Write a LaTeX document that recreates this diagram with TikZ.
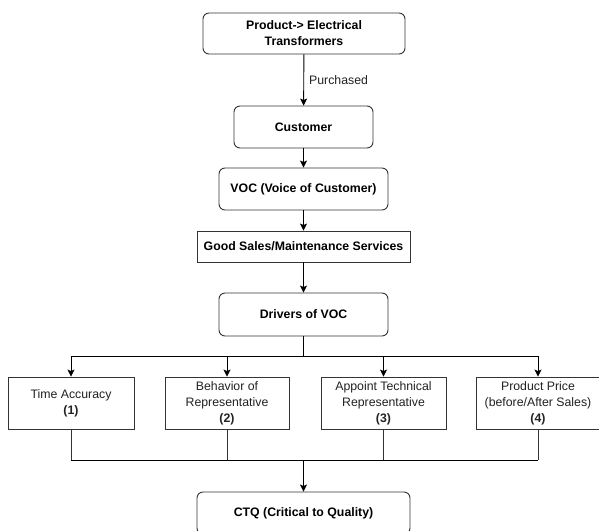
\documentclass[tikz,border=0pt]{standalone}
\usepackage{fontspec}
\setmainfont{Liberation Sans}
\usetikzlibrary{arrows.meta}
\definecolor{edgegray}{HTML}{333333}
\definecolor{txtgray}{HTML}{222222}
\tikzset{
  rbox/.style={draw=edgegray, line width=0.9pt, rounded corners=6pt, fill=white, align=center,
    inner sep=0pt, font=\fontsize{12.3}{16}\selectfont\bfseries},
  sbox/.style={draw=edgegray, line width=0.9pt, fill=white, align=center,
    inner sep=0pt, font=\fontsize{12.3}{16}\selectfont\bfseries},
  dbox/.style={draw=edgegray, line width=0.9pt, fill=white, align=center,
    inner sep=0pt, text=txtgray, font=\fontsize{12.3}{16}\selectfont},
  conn/.style={draw=black, line width=0.9pt},
  arr/.style={conn, -{Stealth[length=7pt,width=7pt,inset=1.5pt]}},
  lbl/.style={text=txtgray, font=\fontsize{12.3}{16}\selectfont, inner sep=0pt, anchor=west}
}
\begin{document}
\begin{tikzpicture}[x=1pt,y=-1pt]
\useasboundingbox (0,0) rectangle (599,530);
\node[rbox, minimum width=202pt, minimum height=41pt] (prod) at (304,33.5) {Product-> Electrical\\Transformers};
\node[rbox, minimum width=139pt, minimum height=42pt] (cust) at (303.5,127) {Customer};
\node[rbox, minimum width=169pt, minimum height=42pt] (voc) at (303.5,189) {VOC (Voice of Customer)};
\node[sbox, minimum width=213pt, minimum height=31pt] (good) at (303.5,246.5) {Good Sales/Maintenance Services};
\node[rbox, minimum width=169pt, minimum height=43pt] (drv) at (303.5,314.5) {Drivers of VOC};

\node[dbox, minimum width=126pt, minimum height=52pt] (d1) at (71,403) {Time Accuracy\\\textbf{(1)}};
\node[dbox, minimum width=124pt, minimum height=52pt] (d2) at (227,403) {Behavior of\\Representative\\\textbf{(2)}};
\node[dbox, minimum width=125pt, minimum height=52pt] (d3) at (383.5,403) {Appoint Technical\\Representative\\\textbf{(3)}};
\node[dbox, minimum width=124pt, minimum height=52pt] (d4) at (538,403) {Product Price\\(before/After Sales)\\\textbf{(4)}};

\node[rbox, minimum width=213pt, minimum height=42pt] (ctq) at (303.5,513) {CTQ (Critical to Quality)};

\node[lbl] (purch) at (309,80) {Purchased};

\draw[arr] (prod) -- (cust);
\draw[arr] (cust) -- (voc);
\draw[arr] (voc) -- (good);
\draw[arr] (good) -- (drv);

\coordinate (top) at (303.5,356);
\coordinate (bot) at (303.5,460);
\draw[conn, line width=1.6pt] (drv.south) -- (top);
\draw[conn] (d1.north |- top) -- (d4.north |- top);
\draw[arr] (d1.north |- top) -- (d1.north);
\draw[arr] (d2.north |- top) -- (d2.north);
\draw[arr] (d3.north |- top) -- (d3.north);
\draw[arr] (d4.north |- top) -- (d4.north);

\draw[conn, draw=edgegray] (d1.south) -- (d1.south |- bot);
\draw[conn, draw=edgegray] (d2.south) -- (d2.south |- bot);
\draw[conn, draw=edgegray] (d3.south) -- (d3.south |- bot);
\draw[conn, draw=edgegray] (d4.south) -- (d4.south |- bot);
\draw[conn] (d1.south |- bot) -- (d4.south |- bot);
\draw[arr, line width=1.4pt] (bot) -- (ctq.north);
\end{tikzpicture}
\end{document}
